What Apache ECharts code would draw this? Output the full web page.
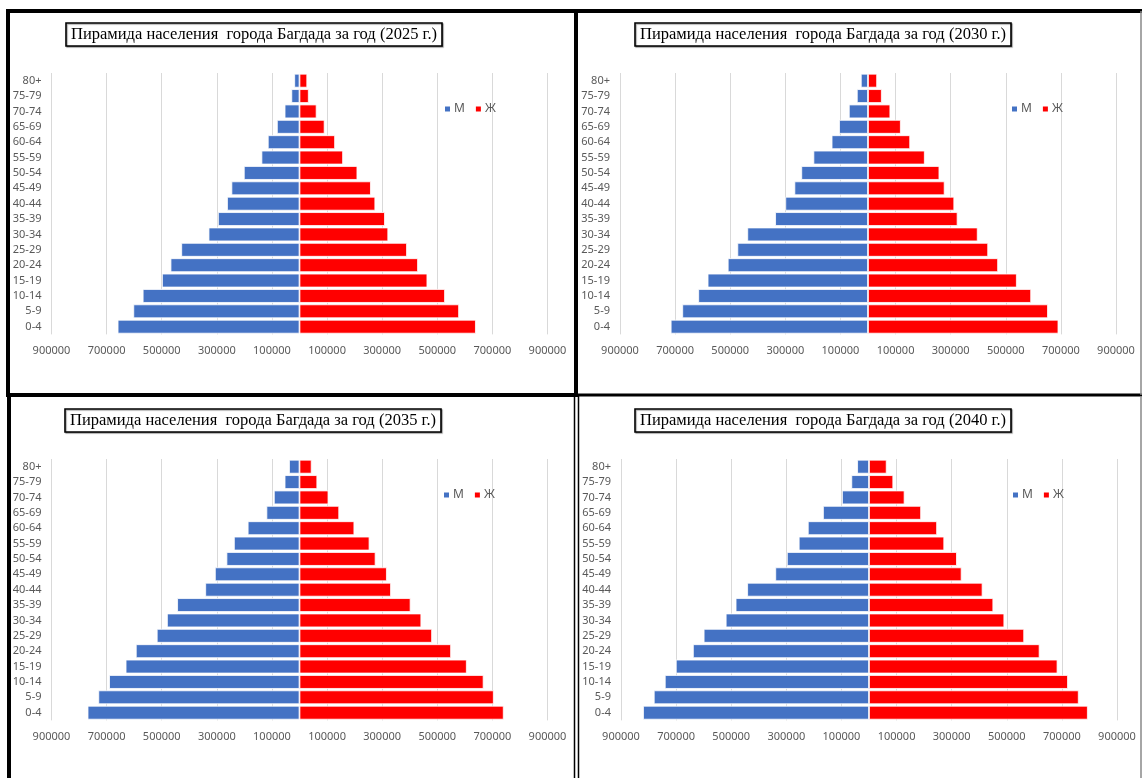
<!DOCTYPE html>
<html>
<head>
<meta charset="utf-8">
<title>Пирамида населения города Багдада</title>
<script src="https://cdn.jsdelivr.net/npm/echarts@6/dist/echarts.min.js"></script>
<style>
  html, body { margin: 0; padding: 0; background: #fff; }
  #chart { width: 1142px; height: 778px; }
</style>
</head>
<body>
<div id="chart"></div>
<script>
// возрастные группы (снизу вверх)
const ageGroups = ['0-4', '5-9', '10-14', '15-19', '20-24', '25-29', '30-34', '35-39', '40-44',
  '45-49', '50-54', '55-59', '60-64', '65-69', '70-74', '75-79', '80+']

const years = ['2025', '2030', '2035', '2040']

// мужчины / женщины по годам, от 0-4 до 80+
const male2025 = [660000, 603000, 569000, 499000, 468000, 429000, 330000, 296000, 263000, 247000, 202000, 138000, 115000, 82000, 54000, 29500, 19000]
const female2025 = [640000, 579000, 528000, 464000, 430000, 390000, 322000, 310000, 275000, 259000, 210000, 158000, 129000, 91000, 62000, 33500, 28000]

const male2030 = [716000, 674000, 616000, 582000, 509000, 474000, 438000, 337000, 300000, 267000, 242000, 198000, 132000, 105000, 69500, 40500, 26000]
const female2030 = [691000, 653000, 592000, 540000, 472000, 436000, 398000, 325000, 313000, 278000, 259000, 206000, 153000, 119000, 81000, 50000, 33000]

const male2035 = [769000, 730000, 691000, 631000, 594000, 518000, 481000, 444000, 342000, 307000, 265000, 238000, 188000, 120000, 93000, 54000, 38000]
const female2035 = [741000, 705000, 668000, 607000, 550000, 481000, 442000, 403000, 332000, 317000, 276000, 254000, 199000, 144000, 105000, 64500, 44000]

const male2040 = [820000, 781000, 741000, 701000, 639000, 600000, 520000, 484000, 442000, 340000, 298000, 255000, 222000, 167000, 98000, 64000, 43000]
const female2040 = [794000, 761000, 722000, 684000, 619000, 563000, 491000, 451000, 412000, 336000, 319000, 273000, 247000, 189000, 129000, 88000, 64000]

const maleData = [male2025, male2030, male2035, male2040]
const femaleData = [female2025, female2030, female2035, female2040]

// положение каждой панели: [left, top] графика, [left, top] заголовка, [left, top] легенды
const panels = [
  { grid: [51.5, 73], title: [66, 23], legend: [443, 103] },
  { grid: [620, 73], title: [635, 23], legend: [1010, 103] },
  { grid: [51.5, 459], title: [65, 409], legend: [442, 489] },
  { grid: [621, 459], title: [635, 409], legend: [1011, 489] }
]

const labelColor = '#595959'
const gridW = 496
const gridH = 17 * 15.375

const chartInstance = echarts.init(document.getElementById('chart'), null, { renderer: 'canvas' })

const option = {
  backgroundColor: '#fff',
  animation: false,
  title: [],
  legend: [],
  grid: [],
  xAxis: [],
  yAxis: [],
  series: [],
  graphic: []
}

panels.forEach((p, i) => {
  option.title.push({
    text: 'Пирамида населения  города Багдада за год (' + years[i] + ' г.)',
    left: p.title[0],
    top: p.title[1],
    padding: [3, 5, 3, 5],
    borderColor: '#000',
    borderWidth: 1.6,
    shadowColor: 'rgba(0,0,0,0.35)',
    shadowOffsetX: 1,
    shadowOffsetY: 1,
    shadowBlur: 1,
    backgroundColor: '#fff',
    textStyle: {
      fontFamily: '"Liberation Serif", "DejaVu Serif", serif',
      fontWeight: 'normal',
      fontSize: 16.5,
      color: '#000'
    }
  })
  option.legend.push({
    left: p.legend[0],
    top: p.legend[1],
    padding: 0,
    itemWidth: 7,
    itemHeight: 7,
    itemGap: 9,
    icon: 'rect',
    data: ['М', 'Ж'],
    textStyle: { color: labelColor, fontSize: 12, fontFamily: '"Noto Sans", sans-serif', padding: [0, 0, 0, -2] }
  })
  option.grid.push({
    left: p.grid[0],
    top: p.grid[1],
    width: gridW,
    height: gridH,
    containLabel: false
  })
  option.xAxis.push({
    type: 'value',
    gridIndex: i,
    min: -900000,
    max: 900000,
    interval: 200000,
    axisLine: { show: false },
    axisTick: { show: false },
    splitLine: { show: true, lineStyle: { color: '#d9d9d9', width: 1 } },
    axisLabel: {
      color: labelColor,
      fontSize: 11,
      fontFamily: '"Noto Sans", sans-serif',
      margin: 11,
      formatter: v => String(Math.abs(v))
    }
  })
  option.yAxis.push({
    type: 'category',
    gridIndex: i,
    data: ageGroups,
    axisLine: { show: false, onZero: false },
    axisTick: { show: false },
    splitLine: { show: false },
    axisLabel: {
      color: labelColor,
      fontSize: 11,
      fontFamily: '"Noto Sans", sans-serif',
      margin: 10
    }
  })
  option.series.push({
    name: 'М',
    type: 'bar',
    xAxisIndex: i,
    yAxisIndex: i,
    barGap: '-100%',
    barCategoryGap: '10%',
    itemStyle: { color: '#4472c4', borderColor: '#ffffff', borderWidth: 0.8 },
    data: maleData[i].map(v => -v)
  })
  option.series.push({
    name: 'Ж',
    type: 'bar',
    xAxisIndex: i,
    yAxisIndex: i,
    barGap: '-100%',
    barCategoryGap: '10%',
    itemStyle: { color: '#ff0000', borderColor: '#ffffff', borderWidth: 0.8 },
    data: femaleData[i]
  })
})

// рамки панелей
option.graphic = [
  { type: 'rect', z: 100, shape: { x: 8, y: 11, width: 568, height: 384 }, style: { fill: null, stroke: '#000', lineWidth: 4 } },
  { type: 'line', z: 100, shape: { x1: 576, y1: 11, x2: 1142, y2: 11 }, style: { stroke: '#000', lineWidth: 4 } },
  { type: 'line', z: 100, shape: { x1: 576, y1: 395, x2: 1142, y2: 395 }, style: { stroke: '#000', lineWidth: 3 } },
  { type: 'line', z: 100, shape: { x1: 1141, y1: 11, x2: 1141, y2: 395 }, style: { stroke: '#888', lineWidth: 1.5 } },
  { type: 'line', z: 100, shape: { x1: 9, y1: 395, x2: 9, y2: 778 }, style: { stroke: '#000', lineWidth: 4 } },
  { type: 'line', z: 100, shape: { x1: 574.5, y1: 396, x2: 574.5, y2: 778 }, style: { stroke: '#000', lineWidth: 1.5 } },
  { type: 'line', z: 100, shape: { x1: 578.5, y1: 396, x2: 578.5, y2: 778 }, style: { stroke: '#000', lineWidth: 1.5 } },
  { type: 'line', z: 100, shape: { x1: 1141, y1: 396, x2: 1141, y2: 778 }, style: { stroke: '#888', lineWidth: 1.5 } }
]

chartInstance.setOption(option)
</script>
</body>
</html>
